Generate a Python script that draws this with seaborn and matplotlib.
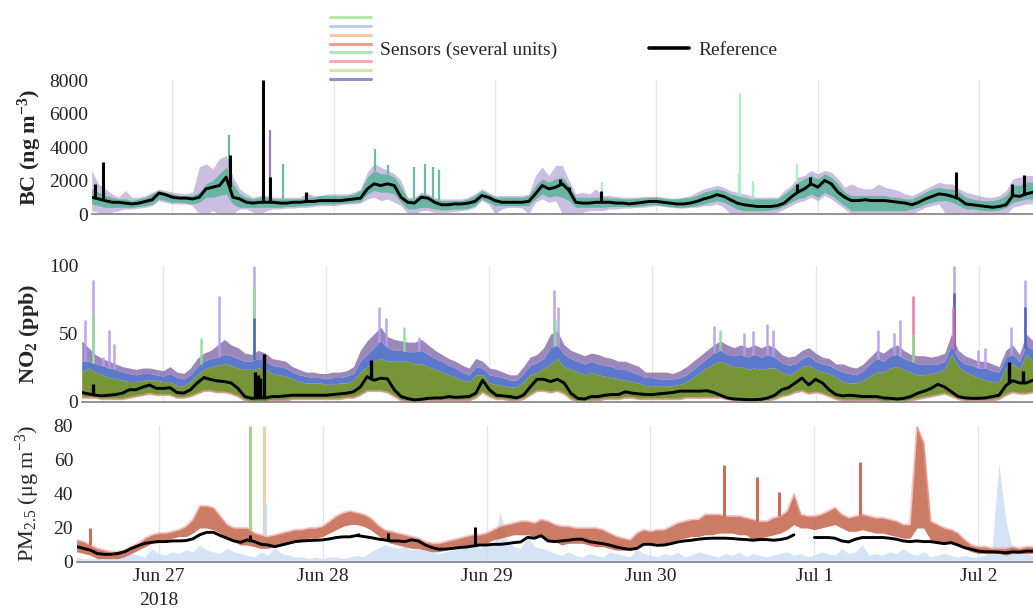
import numpy as np
import pandas as pd
import matplotlib
matplotlib.use("Agg")
import matplotlib.pyplot as plt
import seaborn as sns
from matplotlib.lines import Line2D
from matplotlib.legend_handler import HandlerBase

# ---------------------------------------------------------------- data
# hourly samples starting 2018-06-26 12:00 (141 hours)
START = "2018-06-26 12:00"
hours = list(range(141))

# Black carbon (ng m-3)
bc_ref = [1000, 900, 800, 700, 700, 650, 600, 650, 750, 850,
          1250, 1150, 1000, 950, 950, 900, 1000, 1500, 1600, 1700,
          2200, 1000, 900, 700, 650, 700, 700, 700, 650, 650,
          700, 700, 750, 750, 800, 800, 800, 800, 850, 900,
          950, 1500, 1800, 1700, 1800, 1700, 1000, 700, 650, 1000,
          950, 700, 550, 550, 600, 600, 650, 750, 1100, 1000,
          800, 700, 700, 700, 700, 750, 1200, 1700, 1500, 1600,
          1800, 1400, 700, 650, 650, 700, 700, 700, 650, 650,
          600, 650, 700, 750, 750, 700, 650, 600, 600, 650,
          750, 900, 1000, 1150, 1050, 850, 650, 550, 500, 450,
          450, 450, 500, 650, 1000, 1300, 1500, 1800, 1600, 2000,
          1800, 1300, 1000, 800, 800, 850, 800, 800, 800, 750,
          700, 650, 550, 700, 900, 1050, 1200, 1150, 1050, 900,
          600, 550, 500, 450, 400, 450, 550, 1100, 1050, 1200, 1300]
bc_ref_spike_h = [0.5, 1.7, 20.5, 25.5, 26.5, 31.8, 69.6, 71.0, 75.7,
                  104.9, 106.9, 128.6, 136.9, 138.7]
bc_ref_spike_v = [1800, 3100, 3500, 8000, 2200, 1300, 2100, 1600, 1400,
                  1800, 2200, 2500, 1800, 2300]

bc_teal_lo = [600, 500, 400, 400, 400, 400, 400, 450, 500, 600,
              900, 800, 700, 700, 650, 600, 700, 1000, 1000, 1100,
              1200, 600, 400, 400, 400, 400, 400, 400, 400, 450,
              450, 500, 500, 550, 600, 600, 600, 650, 650, 700,
              750, 1200, 1400, 1300, 1300, 1200, 700, 300, 300, 400,
              400, 300, 250, 250, 300, 300, 350, 500, 900, 700,
              500, 500, 500, 500, 500, 500, 900, 1200, 1000, 1100,
              1000, 800, 400, 400, 400, 400, 400, 450, 450, 450,
              450, 450, 500, 550, 550, 500, 450, 400, 400, 450,
              500, 600, 700, 800, 700, 500, 300, 200, 200, 200,
              200, 250, 300, 500, 700, 900, 1000, 1200, 1000, 1300,
              1100, 800, 500, 200, 200, 200, 200, 200, 200, 200,
              200, 200, 300, 400, 600, 700, 800, 800, 700, 500,
              300, 300, 250, 200, 200, 250, 400, 700, 800, 900, 900]
bc_teal_hi = [1500, 1300, 1100, 1000, 900, 900, 800, 900, 1000, 1200,
              1400, 1300, 1200, 1100, 1100, 1100, 1300, 1800, 2000, 2400,
              2800, 1800, 1200, 1000, 900, 1000, 1000, 900, 900, 900,
              900, 900, 1000, 1000, 1100, 1100, 1100, 1100, 1100, 1200,
              1400, 2200, 2600, 2400, 2400, 2200, 1600, 900, 900, 1200,
              1100, 900, 800, 800, 800, 800, 900, 1100, 1400, 1200,
              1000, 1000, 1000, 1000, 1000, 1100, 1700, 2100, 1900, 2100,
              2200, 1700, 1000, 1000, 1000, 1000, 1000, 950, 950, 900,
              900, 950, 950, 1000, 1000, 950, 900, 900, 950, 1000,
              1100, 1300, 1400, 1500, 1400, 1200, 1100, 1000, 900, 900,
              900, 900, 900, 1200, 1500, 1900, 2100, 2300, 2100, 2400,
              2200, 1800, 1300, 1100, 1100, 1100, 1100, 1100, 1100, 1000,
              1000, 900, 900, 1100, 1300, 1500, 1600, 1500, 1500, 1300,
              1000, 900, 800, 800, 800, 900, 1100, 1700, 1700, 1900, 1900]
bc_purple_lo = [200, 100, 0, 100, 200, 300, 300, 350, 400, 500,
                800, 700, 600, 600, 600, 500, 0, 0, 200, 0,
                0, 0, 300, 300, 100, 0, 200, 300, 300, 350,
                350, 400, 400, 450, 500, 500, 500, 550, 600, 600,
                650, 900, 1000, 800, 900, 700, 500, 0, 0, 200,
                200, 100, 100, 100, 150, 200, 250, 400, 800, 600,
                0, 300, 400, 400, 350, 0, 700, 900, 700, 800,
                0, 0, 0, 100, 200, 200, 200, 300, 300, 350,
                350, 400, 400, 450, 500, 450, 400, 350, 350, 400,
                400, 500, 500, 600, 400, 0, 0, 0, 0, 0,
                0, 0, 100, 300, 500, 700, 800, 1000, 800, 1100,
                900, 600, 300, 0, 0, 0, 0, 0, 0, 0,
                0, 0, 0, 200, 400, 500, 600, 0, 0, 0,
                0, 0, 0, 0, 0, 0, 0, 400, 500, 600, 600]
bc_purple_hi = [2600, 1800, 1500, 1200, 1000, 1400, 1000, 1000, 1100, 1300,
                1500, 1400, 1300, 1250, 1200, 1300, 2800, 3000, 2700, 3300,
                3500, 2200, 1500, 1200, 1000, 1100, 1100, 1000, 1000, 1000,
                1000, 1000, 1300, 1100, 1100, 1200, 1200, 1200, 1200, 1300,
                1500, 2500, 3000, 2800, 2600, 2400, 2000, 1000, 1000, 1300,
                1200, 1000, 900, 900, 900, 900, 1000, 1200, 1500, 1300,
                1100, 1100, 1100, 1100, 1100, 1200, 2300, 2800, 2300, 2900,
                2900, 2000, 1200, 1300, 1200, 1500, 1100, 1100, 1050, 1000,
                1000, 1000, 1050, 1050, 1050, 1000, 950, 950, 1000, 1100,
                1300, 1500, 1600, 1700, 1600, 1400, 1300, 1200, 1100, 1000,
                1000, 1000, 1000, 1400, 1700, 2200, 2300, 2600, 2400, 2600,
                2500, 2100, 1600, 1800, 1600, 1500, 1500, 1800, 1600, 1500,
                1400, 1200, 1100, 1300, 1500, 1700, 1900, 1800, 1800, 1500,
                1300, 1200, 1100, 1000, 1000, 1100, 1400, 2100, 2200, 2300, 2300]
bc_spike_h = [20.4, 26.5, 28.4, 42.1, 44.0, 48.0, 49.5, 50.7, 51.6,
              75.9, 96.2, 96.4, 98.4, 104.9]
bc_spike_v = [4700, 5000, 3000, 3900, 2900, 2800, 3000, 2800, 2600,
              1900, 2400, 7200, 2000, 3000]
bc_spike_unit = ["A", "B", "A", "A", "A", "A", "A", "A", "A",
                 "C", "C", "C", "C", "C"]

# Nitrogen dioxide (ppb)
no2_ref = [7, 6, 5, 4.5, 5, 5.5, 6.5, 9, 9, 11,
           12.5, 10, 10, 10.5, 7, 6.5, 9, 14, 18, 16.5,
           15.5, 15, 14, 10, 4, 2.7, 3, 3, 4, 4,
           4.5, 5, 5, 5, 5, 5, 5, 5.5, 6, 6.5,
           7.5, 11, 18.6, 16, 17.5, 17, 9, 4, 2.5, 1.5,
           2, 2.7, 3, 3, 4, 3.4, 3.7, 4, 6.5, 16,
           9, 5, 4.5, 4, 3, 5, 11, 16.7, 16.7, 15,
           16.7, 14, 6.4, 2.7, 2.2, 4, 4, 5, 5.5, 5.5,
           7.5, 6.5, 6, 5.5, 5.5, 6, 6.5, 7, 8, 8,
           8, 8, 8.3, 7, 5, 3, 2.2, 2, 1.7, 1.7,
           2, 3, 5, 9, 10.5, 14, 17.6, 12.5, 16.7, 14,
           9, 5.5, 4.5, 5, 4.5, 4, 4, 4, 3, 2.7,
           2.2, 2.7, 4, 6.4, 8, 10, 13, 11, 7.5, 4,
           3, 2.7, 2.7, 3, 4, 5, 12, 15.7, 14, 14, 16]
no2_ref_spike_h = [1.6, 25.5, 25.9, 26.3, 26.9, 42.6, 136.5, 138.5]
no2_ref_spike_v = [13, 22, 20, 18, 35, 31, 29.6, 22.8]

no2_hi = [45, 40, 35, 32, 30, 28, 26, 25, 24, 25,
          25, 24, 23, 26, 22, 21, 25, 32, 36, 38,
          42, 46, 42, 40, 36, 35, 38, 36, 32, 31,
          30, 26, 24, 22, 22, 21, 21, 22, 22, 23,
          26, 38, 45, 50, 55, 48, 46, 45, 44, 44,
          46, 42, 38, 35, 32, 30, 27, 25, 32, 30,
          25, 24, 22, 20, 20, 26, 33, 35, 40, 50,
          52, 42, 38, 36, 34, 36, 35, 33, 32, 30,
          30, 28, 26, 22, 22, 22, 22, 21, 23, 26,
          30, 34, 38, 42, 45, 42, 40, 42, 40, 42,
          40, 42, 40, 35, 33, 34, 38, 40, 36, 33,
          32, 28, 28, 26, 25, 28, 33, 38, 36, 40,
          42, 38, 35, 34, 34, 33, 34, 36, 50, 38,
          34, 32, 30, 30, 28, 26, 38, 42, 35, 50, 45]
no2_blue = [30, 30, 28, 27, 25, 24, 22, 21, 20, 21,
            21, 20, 19, 21, 18, 17, 20, 26, 30, 32,
            33, 35, 34, 32, 30, 30, 32, 30, 27, 26,
            25, 22, 20, 19, 18, 18, 17, 18, 18, 19,
            21, 30, 35, 40, 45, 40, 38, 38, 37, 37,
            38, 35, 32, 30, 27, 25, 22, 20, 26, 25,
            20, 19, 18, 16, 16, 21, 27, 29, 32, 40,
            42, 35, 32, 30, 28, 30, 28, 27, 26, 24,
            24, 22, 20, 18, 18, 17, 17, 17, 18, 20,
            24, 28, 32, 36, 38, 35, 34, 35, 33, 35,
            33, 35, 33, 29, 27, 28, 32, 34, 30, 28,
            27, 24, 22, 21, 20, 23, 28, 32, 30, 34,
            35, 32, 30, 28, 28, 28, 28, 30, 42, 32,
            28, 27, 25, 25, 23, 22, 33, 35, 30, 42, 38]
no2_green = [22, 25, 22, 20, 18, 17, 16, 15, 15, 16,
             16, 16, 15, 15, 12, 12, 15, 20, 24, 26,
             27, 28, 27, 25, 24, 24, 25, 24, 21, 20,
             19, 17, 15, 14, 14, 14, 13, 13, 14, 14,
             16, 22, 26, 30, 32, 30, 30, 30, 30, 28,
             28, 26, 24, 22, 20, 18, 16, 15, 20, 20,
             14, 13, 12, 11, 11, 15, 20, 22, 25, 28,
             32, 26, 24, 22, 20, 22, 20, 19, 18, 17,
             16, 15, 14, 12, 12, 12, 12, 12, 13, 15,
             18, 22, 25, 28, 30, 28, 26, 26, 24, 25,
             24, 25, 25, 22, 20, 22, 26, 27, 24, 22,
             21, 18, 15, 14, 14, 16, 19, 22, 22, 25,
             26, 24, 22, 20, 20, 21, 22, 24, 35, 26,
             22, 20, 18, 16, 15, 15, 25, 28, 24, 35, 30]
no2_lo = [3, 3, 3, 2, 2, 2, 2, 3, 4, 5,
          6, 5, 5, 5, 3, 3, 4, 6, 8, 8,
          7, 7, 6, 4, 1, 0, 0, 0, 1, 1,
          1, 2, 2, 2, 2, 2, 2, 2, 2, 3,
          3, 5, 8, 8, 8, 7, 4, 1, 0, 0,
          0, 1, 1, 1, 1, 1, 1, 1, 3, 7,
          4, 2, 2, 1, 1, 2, 5, 8, 8, 7,
          8, 6, 2, 0, 0, 1, 1, 2, 2, 2,
          3, 3, 2, 2, 2, 2, 2, 2, 2, 3,
          3, 3, 3, 3, 3, 2, 1, 0, 0, 0,
          0, 1, 2, 4, 5, 7, 8, 6, 7, 6,
          4, 2, 1, 1, 1, 1, 1, 1, 0, 0,
          0, 0, 1, 2, 3, 4, 5, 6, 4, 2,
          1, 1, 1, 1, 1, 2, 5, 7, 6, 6, 7]
no2_spike_h = [0.5, 1.7, 1.7, 3.2, 4.0, 4.8, 17.5, 20.2, 25.3, 25.3, 25.3,
               43.8, 44.8, 47.5, 49.6, 69.5, 69.6, 70.1, 93.1, 94.0, 97.5,
               98.8, 100.8, 101.7, 117.2, 119.6, 120.4, 122.3, 122.3,
               128.4, 128.4, 128.3, 131.9, 132.9, 136.8, 138.8, 138.8]
no2_spike_v = [60, 90, 65, 33, 53, 43, 47, 78, 100, 85, 62,
               70, 62, 55, 48, 82, 60, 70, 56, 53, 51,
               52, 57, 53, 53, 51, 60, 78, 50,
               100, 80, 70, 38, 40, 55, 90, 70]
no2_spike_unit = ["P", "P", "G", "P", "P", "P", "G", "P", "P", "G", "B",
                  "P", "P", "G", "P", "P", "G", "P", "P", "G", "P",
                  "P", "P", "P", "P", "P", "P", "K", "G",
                  "P", "B", "K", "P", "P", "P", "P", "B"]

# Fine particulate matter (ug m-3)
pm_ref = [9, 8, 7, 5, 4.5, 4.5, 5, 6, 8, 9.6,
          11, 11.6, 12, 12, 12.4, 12.4, 12.6, 13.6, 16, 17.4,
          17.5, 15.6, 14, 12.4, 11.6, 13, 12, 10.4, 10, 9,
          10, 11, 12, 12.4, 12.6, 12.8, 13, 13.6, 14.4, 14.8,
          14.8, 15.6, 15, 14.4, 13.6, 13, 12.4, 12.4, 12, 13,
          12.4, 10, 8.5, 7.5, 7.6, 8, 8.5, 8.8, 9.4, 10,
          10, 10.4, 10.4, 10.8, 11.4, 11.8, 14.5, 14, 15.5, 12.4,
          12, 12.4, 12.8, 13.4, 13.4, 12, 11.4, 10.8, 10, 8.8,
          8, 7.4, 8, 10.4, 10.4, 9.8, 10, 10.8, 11.8, 12.4,
          12.8, 13.4, 13.8, 14, 14, 14, 13.8, 13.4, 13.2, 12.8,
          13.2, 13.2, 12.8, 13.2, 14, 16, np.nan, np.nan, 14.4, 14.4,
          14.4, 14, 12.4, 11.8, 13.4, 14.4, 14.4, 14.4, 14.4, 14,
          13.4, 12.4, 12, 12.4, 12, 12, 11.4, 10.8, 11.4, 10,
          8.4, 7.4, 6.4, 6, 6, 5.8, 5.4, 6, 5.8, 6.4, 6.4]
pm_ref_spike_h = [25.4, 41.2, 45.6, 58.3]
pm_ref_spike_v = [16, 17, 17, 20.5]

pm_hi = [13, 12, 10, 8, 7, 6, 6, 7, 9, 11,
         14, 16, 17, 17, 18, 19, 21, 25, 33, 33,
         32, 27, 22, 20, 20, 20, 17, 16, 15, 16,
         17, 18, 19, 19, 20, 20, 21, 24, 27, 29,
         30, 29, 28, 26, 22, 19, 18, 17, 16, 15,
         14, 12, 11, 11, 12, 13, 14, 15, 16, 16,
         17, 19, 21, 22, 23, 24, 24, 23, 25, 24,
         22, 21, 21, 20, 20, 20, 20, 19, 17, 15,
         14, 13, 17, 19, 18, 19, 19, 21, 23, 24,
         25, 25, 28, 28, 28, 27, 27, 27, 26, 25,
         24, 24, 26, 27, 30, 40, 28, 27, 27, 28,
         30, 32, 28, 26, 27, 28, 27, 26, 26, 25,
         24, 22, 22, 80, 70, 24, 22, 20, 19, 17,
         13, 10, 9, 9, 8, 8, 8, 9, 8, 9, 9]
pm_lo = [6, 5, 4, 2, 2, 2, 2, 3, 5, 7,
         9, 11, 13, 13, 14, 15, 15, 17, 20, 20,
         19, 17, 14, 12, 10, 10, 9, 8, 8, 9,
         10, 11, 12, 13, 14, 14, 15, 17, 19, 21,
         22, 22, 21, 19, 16, 13, 11, 10, 9, 8,
         8, 7, 6, 6, 7, 8, 9, 9, 10, 11,
         11, 13, 14, 15, 16, 16, 16, 15, 16, 13,
         12, 10, 11, 11, 11, 10, 9, 9, 8, 7,
         7, 7, 9, 11, 11, 11, 11, 12, 13, 14,
         15, 15, 16, 16, 17, 17, 17, 16, 16, 13,
         14, 15, 16, 17, 19, 22, 20, 20, 19, 20,
         21, 22, 20, 18, 18, 19, 18, 17, 17, 16,
         15, 14, 14, 20, 20, 13, 12, 11, 11, 10,
         8, 6, 5, 5, 5, 5, 4, 5, 5, 5, 5]
pm_light = [3, 2, 2, 2, 3, 2, 4, 3, 5, 4,
            3, 8, 5, 4, 6, 5, 7, 6, 10, 7,
            6, 5, 8, 6, 5, 4, 3, 6, 4, 8,
            5, 4, 3, 3, 2, 3, 2, 3, 3, 2,
            3, 4, 3, 6, 8, 10, 9, 8, 9, 7,
            8, 9, 6, 5, 6, 7, 8, 10, 14, 8,
            12, 10, 30, 12, 9, 8, 15, 9, 8, 7,
            5, 4, 6, 4, 3, 5, 4, 3, 6, 5,
            4, 3, 8, 5, 4, 3, 5, 4, 6, 3,
            4, 6, 5, 4, 3, 5, 4, 6, 3, 5,
            4, 3, 4, 5, 6, 4, 5, 3, 4, 6,
            5, 4, 8, 5, 6, 10, 4, 5, 4, 6,
            5, 8, 5, 4, 6, 3, 4, 5, 4, 3,
            4, 3, 3, 4, 8, 58, 25, 8, 8, 5, 4]
pm_spike_h = [1.9, 25.4, 27.4, 27.6, 94.8, 99.6, 102.8, 114.7]
pm_spike_v = [20, 80, 80, 35, 57, 50, 41, 59]
pm_spike_unit = ["R", "G", "O", "L", "R", "R", "R", "R"]

day_ticks = ["2018-06-27", "2018-06-28", "2018-06-29", "2018-06-30",
             "2018-07-01", "2018-07-02"]
day_labels = ["Jun 27\n2018", "Jun 28", "Jun 29", "Jun 30", "Jul 1", "Jul 2"]

legend_colors = ["#b6e9a9", "#b9cdf2", "#f4c8a6", "#f39b8d",
                 "#a8eab1", "#f8abb6", "#cfe9ae", "#8e93c7"]

# ---------------------------------------------------------------- style
sns.set_theme(style="white")
plt.rcParams["font.family"] = ["Liberation Serif", "DejaVu Serif"]
plt.rcParams["mathtext.fontset"] = "custom"
plt.rcParams["mathtext.rm"] = "Liberation Serif"
plt.rcParams["mathtext.it"] = "Liberation Serif:italic"
plt.rcParams["mathtext.bf"] = "Liberation Serif:bold"

t0 = pd.Timestamp(START)
times = t0 + pd.to_timedelta(hours, unit="h")
tx = times.to_numpy()


def to_time(h):
    return (t0 + pd.to_timedelta(np.asarray(h, dtype=float), unit="h")).to_numpy()


def style_axis(ax, ymax, yticks, show_dates):
    ax.set_xlim(t0, t0 + pd.Timedelta(hours=140))
    ax.set_ylim(0, ymax)
    ax.set_yticks(yticks)
    ax.set_xticks(pd.to_datetime(day_ticks))
    if show_dates:
        ax.set_xticklabels(day_labels, fontsize=14, color="#222222",
                           linespacing=1.5)
    else:
        ax.set_xticklabels([])
    ax.tick_params(axis="y", length=0, labelsize=14, pad=2.5,
                   labelcolor="#222222")
    ax.tick_params(axis="x", length=0, pad=4.5)
    ax.grid(axis="x", color="#e6e6e6", lw=1.0)
    ax.grid(axis="y", visible=False)
    for side in ("top", "right", "left"):
        ax.spines[side].set_visible(False)
    ax.spines["bottom"].set_color("#8a8a8a")
    ax.spines["bottom"].set_linewidth(1.3)
    ax.set_xlabel("")


def spikes(ax, sh, sv, base_series, colors, lw=1.6, alpha=0.9):
    base = np.interp(sh, hours, base_series)
    ax.vlines(to_time(sh), base, sv, colors=colors, lw=lw, alpha=alpha,
              zorder=3)


fig = plt.figure(figsize=(10.33, 6.10), dpi=100)
W, H = 1033.0, 610.0


def add_panel(left_px, top_px, bottom_px):
    return fig.add_axes([left_px / W, 1 - bottom_px / H,
                         1 - left_px / W, (bottom_px - top_px) / H])


# ---------------------------------------------------------------- BC panel
ax1 = add_panel(91.7, 80, 214)
ax1.fill_between(tx, bc_purple_lo, bc_purple_hi, color="#8d6fbe",
                 alpha=0.45, lw=0, zorder=1)
ax1.fill_between(tx, bc_teal_lo, bc_teal_hi, color="#5cb59b",
                 alpha=0.9, lw=0, zorder=2)
bc_unit_colors = {"A": "#5cb59b", "B": "#8d6fbe", "C": "#a3f0bf"}
spikes(ax1, bc_spike_h, bc_spike_v, bc_teal_hi,
       [bc_unit_colors[u] for u in bc_spike_unit])
bc_df = pd.DataFrame({"time": times, "value": bc_ref})
sns.lineplot(data=bc_df, x="time", y="value", color="black", lw=2.1,
             ax=ax1, zorder=4)
spikes(ax1, bc_ref_spike_h, bc_ref_spike_v, bc_ref, "black", lw=2.2,
       alpha=1.0)
style_axis(ax1, 8000, [0, 2000, 4000, 6000, 8000], False)
ax1.set_ylabel(r"BC (ng m$^{\mathbf{-3}}$)", fontsize=16, fontweight="bold")
ax1.yaxis.set_label_coords(-0.051, 0.5)

# ---------------------------------------------------------------- NO2 panel
ax2 = add_panel(81.7, 266, 402)
ax2.fill_between(tx, no2_lo, no2_green, color="#6e8f2c", alpha=0.95,
                 lw=0, zorder=1)
ax2.fill_between(tx, no2_green, no2_blue, color="#4062c4", alpha=0.85,
                 lw=0, zorder=1)
ax2.fill_between(tx, no2_blue, no2_hi, color="#8b72ae", alpha=0.85,
                 lw=0, zorder=1)
ax2.plot(tx, no2_lo, color="#f3a0a3", lw=1.5, alpha=0.7, zorder=1)
no2_unit_colors = {"P": "#b59ced", "G": "#8fdc95", "B": "#3d5bc0",
                   "K": "#e86aa8"}
spikes(ax2, no2_spike_h, no2_spike_v, no2_blue,
       [no2_unit_colors[u] for u in no2_spike_unit], lw=1.8)
no2_df = pd.DataFrame({"time": times, "value": no2_ref})
sns.lineplot(data=no2_df, x="time", y="value", color="black", lw=2.1,
             ax=ax2, zorder=4)
spikes(ax2, no2_ref_spike_h, no2_ref_spike_v, no2_ref, "black", lw=2.4,
       alpha=1.0)
style_axis(ax2, 100, [0, 50, 100], False)
ax2.set_ylabel(r"NO$_{\mathbf{2}}$ (ppb)", fontsize=16, fontweight="bold")
ax2.yaxis.set_label_coords(-0.043, 0.5)

# ---------------------------------------------------------------- PM panel
ax3 = add_panel(76.7, 426, 562)
ax3.fill_between(tx, 0, pm_light, color="#c6dbf4", alpha=0.75, lw=0,
                 zorder=1)
ax3.fill_between(tx, pm_lo, pm_hi, color="#c4644a", alpha=0.85, lw=0,
                 zorder=2)
ax3.plot(tx, pm_hi, color="#f0a0a0", lw=1.5, alpha=0.6, zorder=2)
pm_unit_colors = {"R": "#c06048", "G": "#9ccf7a", "O": "#f8c8a2",
                  "L": "#c6dbf4"}
spikes(ax3, pm_spike_h, pm_spike_v, pm_hi,
       [pm_unit_colors[u] for u in pm_spike_unit], lw=2.2)
pm_arr = np.asarray(pm_ref, dtype=float)
pm_df = pd.DataFrame({"time": times, "value": pm_arr,
                      "segment": np.cumsum(np.isnan(pm_arr))})
sns.lineplot(data=pm_df.dropna(), x="time", y="value", units="segment",
             estimator=None, color="black", lw=2.1, ax=ax3, zorder=4)
spikes(ax3, pm_ref_spike_h, pm_ref_spike_v, pm_arr, "black", lw=2.2,
       alpha=1.0)
style_axis(ax3, 80, [0, 20, 40, 60, 80], True)
ax3.set_ylabel(r"PM$_{2.5}$ ($\mathregular{\mu}$g m$^{-3}$)", fontsize=16)
ax3.yaxis.set_label_coords(-0.036, 0.5)


# ---------------------------------------------------------------- legend
class SensorStack:
    pass


class StackHandler(HandlerBase):
    def __init__(self, colors, spread):
        super().__init__()
        self.colors = colors
        self.spread = spread

    def create_artists(self, legend, orig_handle, xdescent, ydescent,
                       width, height, fontsize, trans):
        yc = height / 2 - ydescent
        n = len(self.colors)
        lines = []
        for i, c in enumerate(self.colors):
            y = yc + self.spread * (0.5 - i / (n - 1))
            lines.append(Line2D([-xdescent, -xdescent + width], [y, y],
                                color=c, lw=2.2, transform=trans))
        return lines


ref_handle = Line2D([], [], color="black", lw=2.6)
fig.legend([SensorStack(), ref_handle],
           ["Sensors (several units)", "Reference"],
           handler_map={SensorStack: StackHandler(legend_colors, 45)},
           loc="center", bbox_to_anchor=(0.536, 0.918), ncol=2,
           frameon=False, fontsize=14, handlelength=2.1,
           handletextpad=0.45, columnspacing=4.7)

fig.savefig("out.png", dpi=100)
